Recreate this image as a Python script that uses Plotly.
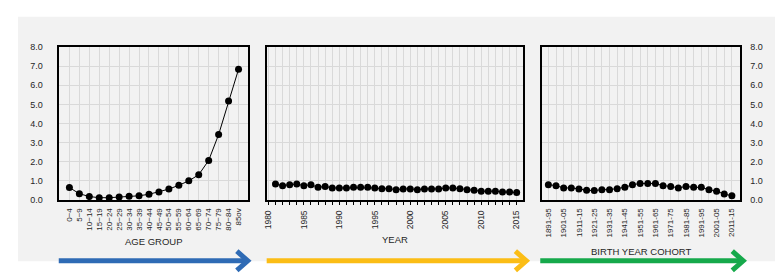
import plotly.graph_objects as go

OFF = 8  # page body margin
W, H = 783 - OFF, 274 - OFF

age_groups = ["0−4", "5−9", "10−14", "15−19", "20−24", "25−29", "30−34", "35−39", "40−44",
              "45−49", "50−54", "55−59", "60−64", "65−69", "70−74", "75−79", "80−84", "85ov"]
age_values = [0.65, 0.33, 0.18, 0.12, 0.12, 0.15, 0.20, 0.22, 0.30, 0.42, 0.57, 0.77,
              1.00, 1.32, 2.07, 3.42, 5.18, 6.83]

years = list(range(1981, 2016))
year_values = [0.83, 0.75, 0.80, 0.83, 0.75, 0.80, 0.66, 0.71, 0.63, 0.63, 0.63, 0.66,
               0.66, 0.66, 0.63, 0.59, 0.59, 0.54, 0.58, 0.58, 0.54, 0.58, 0.58, 0.58,
               0.63, 0.63, 0.59, 0.54, 0.51, 0.46, 0.46, 0.46, 0.42, 0.42, 0.39]
year_ticks = [1980, 1985, 1990, 1995, 2000, 2005, 2010, 2015]

cohorts = ["1891-95", "1896-00", "1901-05", "1906-10", "1911-15", "1916-20", "1921-25",
           "1926-30", "1931-35", "1936-40", "1941-45", "1946-50", "1951-55", "1956-60",
           "1961-65", "1966-70", "1971-75", "1976-80", "1981-85", "1986-90", "1991-95",
           "1996-00", "2001-05", "2006-10", "2011-15"]
cohort_values = [0.80, 0.75, 0.63, 0.63, 0.58, 0.51, 0.49, 0.54, 0.54, 0.59, 0.66, 0.80,
                 0.86, 0.86, 0.86, 0.75, 0.71, 0.63, 0.71, 0.66, 0.66, 0.54, 0.46, 0.31, 0.22]
cohort_ticktext = [c if i % 2 == 0 else "" for i, c in enumerate(cohorts)]

y_ticks = [0, 1, 2, 3, 4, 5, 6, 7, 8]

FONT = "Liberation Sans"
TXT = "#262626"
GRID = "#d9d9d9"
BG = "#f2f2f2"


def px(x):
    return (x - OFF) / W


def py(y):
    return 1 - (y - OFF) / H


fig = go.Figure()
marker = dict(color="black", size=7)
line = dict(color="black", width=1)
fig.add_trace(go.Scatter(x=age_groups, y=age_values, mode="lines+markers", marker=marker,
                         line=line, xaxis="x", yaxis="y", showlegend=False))
fig.add_trace(go.Scatter(x=years, y=year_values, mode="lines+markers", marker=marker,
                         line=line, xaxis="x2", yaxis="y2", showlegend=False))
fig.add_trace(go.Scatter(x=cohorts, y=cohort_values, mode="lines+markers", marker=marker,
                         line=line, xaxis="x3", yaxis="y3", showlegend=False))

ydom = [py(202.3), py(43.3)]
tickfont = dict(family=FONT, size=8, color=TXT)
ytickfont = dict(family=FONT, size=9, color=TXT)
yearfont = dict(family=FONT, size=8.5, color=TXT)
common_x = dict(showline=True, linecolor="black", linewidth=2, mirror=True,
                showgrid=True, gridcolor=GRID, gridwidth=1, zeroline=False,
                tickangle=-90, fixedrange=True)
common_y = dict(range=[0, 8], tickvals=y_ticks, tickformat=".1f", showline=True,
                linecolor="black", linewidth=2, mirror=True, showgrid=True,
                gridcolor=GRID, gridwidth=1, zeroline=False, tickfont=ytickfont,
                domain=ydom, fixedrange=True)

fig.update_layout(
    width=W, height=H,
    margin=dict(l=0, r=0, t=0, b=0),
    paper_bgcolor="white", plot_bgcolor=BG,
    font=dict(family=FONT, color=TXT),
    xaxis=dict(domain=[px(55.7), px(245.7)], type="category", range=[-1, 18],
               categoryorder="array", categoryarray=age_groups,
               tickmode="array", tickvals=age_groups, ticktext=age_groups,
               tickfont=tickfont, ticklabelstandoff=3, anchor="y", **common_x),
    yaxis=dict(anchor="x", side="left", showticklabels=True, ticklabelstandoff=13, **common_y),
    xaxis2=dict(domain=[px(264.3), px(521.7)], type="linear", range=[1979.8, 2015.9],
                tickvals=year_ticks, ticks="outside", ticklen=3, tickcolor="black",
                minor=dict(dtick=1, tick0=1980, showgrid=True, gridcolor=GRID,
                           ticks="outside", ticklen=3, tickcolor="black"),
                tickfont=yearfont, ticklabelstandoff=2, anchor="y2", **common_x),
    yaxis2=dict(anchor="x2", showticklabels=False, **common_y),
    xaxis3=dict(domain=[px(541), px(739.3)], type="category", range=[-0.8, 25],
                categoryorder="array", categoryarray=cohorts,
                tickmode="array", tickvals=cohorts, ticktext=cohort_ticktext,
                tickfont=tickfont, ticklabelstandoff=3, anchor="y3", **common_x),
    yaxis3=dict(anchor="x3", side="right", showticklabels=True, ticklabelstandoff=7, **common_y),
)

shapes = [
    dict(type="rect", xref="paper", yref="paper", x0=px(14), x1=1, y0=py(266), y1=py(12),
         fillcolor=BG, line=dict(width=0), layer="below"),
]
arrows = [(55, 245, "#2f6bb5"), (264, 525, "#fbbd16"), (539, 743, "#16a94b")]
ay = 265.5
for x0, x1, col in arrows:
    shapes.append(dict(type="line", xref="paper", yref="paper", x0=px(x0), x1=px(x1 - 3),
                       y0=py(ay), y1=py(ay), line=dict(color=col, width=5)))
    path = f"M {px(x1 - 11)},{py(ay - 10)} L {px(x1)},{py(ay)} L {px(x1 - 11)},{py(ay + 10)}"
    shapes.append(dict(type="path", xref="paper", yref="paper", path=path,
                       line=dict(color=col, width=5)))
fig.update_layout(shapes=shapes)

title_font = dict(family=FONT, size=9.5, color=TXT)
annotations = [
    dict(text="AGE GROUP", x=px(151), y=py(245), xref="paper", yref="paper",
         showarrow=False, font=title_font, xanchor="center", yanchor="middle"),
    dict(text="YEAR", x=px(393), y=py(243), xref="paper", yref="paper",
         showarrow=False, font=title_font, xanchor="center", yanchor="middle"),
    dict(text="BIRTH YEAR COHORT", x=px(640), y=py(256), xref="paper", yref="paper",
         showarrow=False, font=title_font, xanchor="center", yanchor="middle"),
]
fig.update_layout(annotations=annotations)

fig.write_html("out.html")
